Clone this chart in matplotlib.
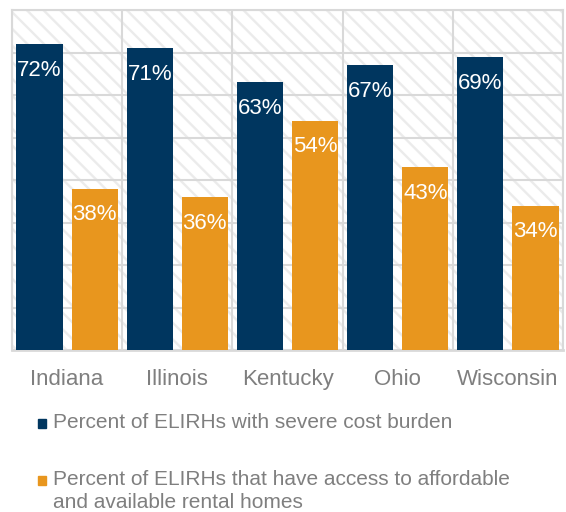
import matplotlib
matplotlib.use("Agg")
import matplotlib.pyplot as plt
from matplotlib.patches import Rectangle
import numpy as np

states = ["Indiana", "Illinois", "Kentucky", "Ohio", "Wisconsin"]
cost_burden = [72, 71, 63, 67, 69]
access = [38, 36, 54, 43, 34]
labels = ["Percent of ELIRHs with severe cost burden",
          "Percent of ELIRHs that have access to affordable\nand available rental homes"]

navy = "#00365F"
orange = "#E8961E"
grey_txt = "#7F7F7F"
grid_c = "#D9D9D9"

plt.rcParams["font.family"] = ["Liberation Sans", "DejaVu Sans"]
plt.rcParams["hatch.linewidth"] = 1.7
plt.rcParams["hatch.color"] = "#EBEBEB"

fig = plt.figure(figsize=(5.66, 5.12), dpi=100)
ax = fig.add_axes([12/566, 1-350/512, (563-12)/566, 340/512])

x = np.arange(len(states))
w = 0.42
off = 0.25

# hatched background
ax.add_patch(Rectangle((0, 0), 1, 1, transform=ax.transAxes, facecolor="white",
                       edgecolor="#EBEBEB", hatch="\\\\", lw=0, zorder=0))

b1 = ax.bar(x - off, cost_burden, w, color=navy, zorder=3)
b2 = ax.bar(x + off, access, w, color=orange, zorder=3)

for bars, vals in ((b1, cost_burden), (b2, access)):
    for r, v in zip(bars, vals):
        ax.annotate(f"{v}%", (r.get_x() + r.get_width()/2, v), xytext=(0, -19),
                    textcoords="offset points", ha="center", va="center",
                    color="white", fontsize=16, zorder=4)

ax.set_xlim(-0.5, len(states) - 0.5)
ax.set_ylim(0, 80)
ax.set_yticks(np.arange(0, 81, 10))
ax.set_yticklabels([])
ax.set_xticks(x)
ax.set_xticklabels(states, fontsize=16, color=grey_txt)
ax.set_xticks(np.arange(-0.5, len(states), 1), minor=True)
ax.tick_params(axis="both", which="both", length=0)
ax.tick_params(axis="x", pad=14)
ax.grid(True, axis="y", color=grid_c, lw=1.5, zorder=1)
ax.grid(True, axis="x", which="minor", color=grid_c, lw=1.5, zorder=1)
for s in ax.spines.values():
    s.set_color(grid_c)
    s.set_linewidth(1.5)
ax.spines["bottom"].set_linewidth(2)
ax.set_axisbelow(True)

# legend drawn by hand so the square sits on the first line
sq_y = [423, 480]
txt_y = [422, 491]
for c, lab, sy, ty in zip([navy, orange], labels, sq_y, txt_y):
    fig.add_artist(Rectangle((38/566, 1-(sy+4.5)/512), 8/566, 9/512,
                             transform=fig.transFigure, color=c))
    fig.text(53/566, 1-ty/512, lab, fontsize=15, color=grey_txt,
             ha="left", va="center", linespacing=1.3)

fig.savefig("out.png", dpi=100)
